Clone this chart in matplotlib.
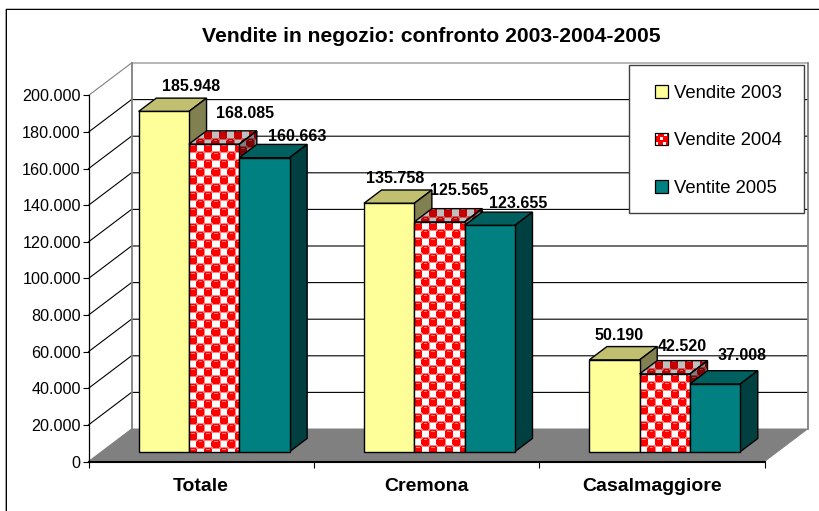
#!/usr/bin/env python3
"""Vendite in negozio: 3D-look clustered bars drawn on a flat matplotlib axes."""

import numpy as np
import matplotlib
matplotlib.use("Agg")
import matplotlib.pyplot as plt
from matplotlib.legend_handler import HandlerBase
from matplotlib.lines import Line2D
from matplotlib.patches import Patch, Polygon, Rectangle

categories = ["Totale", "Cremona", "Casalmaggiore"]
series_names = ["Vendite 2003", "Vendite 2004", "Ventite 2005"]
vendite_2003 = [185948, 135758, 50190]
vendite_2004 = [168085, 125565, 42520]
vendite_2005 = [160663, 123655, 37008]
y_ticks = list(range(0, 200001, 20000))

# label offsets from the bar's front-top centre, in pixels
label_dx = [[27.5, 6, 5], [31, 20, 17.5], [33, 28, 27]]
label_dy = [[-25, -25, -24], [-31, -31, -27], [-21, -22, -29]]

W, H = 819, 511
LEFT, RIGHT, FRONT, TOP = 88.5, 764.5, 461.5, 95.5
plt.rcParams["font.family"] = ["Liberation Sans", "DejaVu Sans"]

fig = plt.figure(figsize=(W / 100, H / 100), dpi=100, facecolor="white")
ax = fig.add_axes([LEFT / W, 1 - FRONT / H, (RIGHT - LEFT) / W, (FRONT - TOP) / H])
ax.set_xlim(0, 3)
ax.set_ylim(0, 200000)
ax.patch.set_visible(False)

px_x = 3 / (RIGHT - LEFT)  # data units per pixel
px_y = 200000 / (FRONT - TOP)
DX = 43 * px_x  # full floor depth in data units
DY = 32.5 * px_y
BAR_W = 50.3 * px_x
BAR_D = 0.41
BAR_FRONT = 0.3


def depth(x, y, d):
    return x + d * DX, y + d * DY


def sphere_tile(red, white):
    """One 15x16 cell of the red spheres fill."""
    red = np.array(red)
    white = np.array(white)
    tile = np.ones((16, 15, 3)) * (0.5 * red + 0.5 * white)
    yy, xx = np.mgrid[0:16, 0:15]
    for cx, cy in [(3.5, 3.5), (11, 11.5)]:
        ball = (xx - cx) ** 2 + (yy - cy) ** 2 <= 4.4 ** 2
        tile[ball] = red
        spot = (abs(xx - cx) <= 1.5) & (abs(yy - cy + 2.5) <= 0.5)
        tile[spot] = 0.5 * red + 0.5 * white
    for cx, cy in [(11, 3.5), (3.5, 11.5)]:
        square = (abs(xx - cx) <= 3) & (abs(yy - cy) <= 3)
        tile[square] = white
    return tile


def fill_image(poly, red, white, zorder):
    """Paint the sphere fill inside a polygon, one tile pixel per screen pixel."""
    xs, ys = poly.get_xy()[:, 0], poly.get_xy()[:, 1]
    w = max(int(round((xs.max() - xs.min()) / px_x)), 1)
    h = max(int(round((ys.max() - ys.min()) / px_y)), 1)
    cell = sphere_tile(red, white)
    arr = np.tile(cell, (h // 16 + 1, w // 15 + 1, 1))[:h, :w]
    im = ax.imshow(arr, extent=(xs.min(), xs.max(), ys.min(), ys.max()), aspect="auto",
                   interpolation="nearest", origin="upper", zorder=zorder)
    im.set_clip_path(poly)


# walls and floor
back_left = depth(0, 0, 1)
back_right = depth(3, 0, 1)
ax.add_patch(Polygon([(0, 0), (3, 0), back_right, back_left], closed=True, facecolor="#808080",
                     edgecolor="#808080", lw=0.7, clip_on=False, zorder=1))
for t in y_ticks[1:]:
    x0, y0 = depth(0, t, 1)
    x1, y1 = depth(3, t, 1)
    color = "#808080" if t == y_ticks[-1] else "black"
    ax.plot([0, x0, x1], [t, y0, y1], color=color, lw=0.8, clip_on=False, zorder=1.5)
for x in (0, 3):
    x0, y0 = depth(x, 0, 1)
    x1, y1 = depth(x, 200000, 1)
    ax.plot([x0, x1], [y0, y1], color="#808080", lw=1.3, clip_on=False, zorder=1.5)

fills = [("#FFFF99", "#C0C070", "#808050"), (None, None, None), ("#008080", "#006060", "#004040")]
z = 3
for s, values in enumerate([vendite_2003, vendite_2004, vendite_2005]):
    for c, v in enumerate(values):
        xc = c + 0.5 + BAR_FRONT * DX + (s - 1) * BAR_W
        base = BAR_FRONT * DY
        x0, x1 = xc - BAR_W / 2, xc + BAR_W / 2
        front_col, top_col, side_col = fills[s]
        d = BAR_D
        top = Polygon([(x0, base + v), (x1, base + v), (x1 + d * DX, base + v + d * DY),
                       (x0 + d * DX, base + v + d * DY)], closed=True, clip_on=False,
                      facecolor=top_col or "none", edgecolor="black", lw=1, zorder=z + 0.2)
        side = Polygon([(x1, base), (x1 + d * DX, base + d * DY), (x1 + d * DX, base + v + d * DY),
                        (x1, base + v)], closed=True, clip_on=False,
                       facecolor=side_col or "none", edgecolor="black", lw=1, zorder=z + 0.2)
        ax.add_patch(top)
        ax.add_patch(side)
        if front_col is None:
            fill_image(top, (0.78, 0, 0), (0.75, 0.75, 0.75), z + 0.1)
            fill_image(side, (0.5, 0, 0), (0.5, 0.5, 0.5), z + 0.1)
        ax.bar(xc, v, width=BAR_W, bottom=base, facecolor=front_col or "none",
               edgecolor="black", lw=1, zorder=z + 0.4, clip_on=False)
        if front_col is None:
            front_poly = Polygon([(x0, base), (x1, base), (x1, base + v), (x0, base + v)],
                                 closed=True, facecolor="none", edgecolor="none", clip_on=False)
            ax.add_patch(front_poly)
            fill_image(front_poly, (1, 0, 0), (1, 1, 1), z + 0.3)
        ax.annotate(f"{v:,}".replace(",", "."), xy=(xc, base + v),
                    xytext=(label_dx[s][c] * 0.72, -label_dy[s][c] * 0.72),
                    textcoords="offset points", ha="center", va="center",
                    fontsize=11.5, fontweight="bold", zorder=50, annotation_clip=False)
        z += 1

ax.set_xlim(0, 3)
ax.set_ylim(0, 200000)

for name in ("top", "right"):
    ax.spines[name].set_visible(False)
ax.spines["left"].set_linewidth(0.9)
ax.spines["bottom"].set_linewidth(1.5)
ax.spines["bottom"].set_zorder(2)

ax.set_yticks(y_ticks)
ax.set_yticklabels([f"{t:,}".replace(",", ".") for t in y_ticks], fontsize=11.6)
ax.tick_params(axis="y", length=4, width=0.8, pad=1.5)
ax.set_xticks([0, 1, 2, 3])
ax.set_xticklabels([])
ax.tick_params(axis="x", which="major", length=4, width=0.8)
ax.xaxis.get_major_ticks()[-1].tick1line.set_color("#808080")
ax.set_xticks([0.5, 1.5, 2.5], minor=True)
ax.set_xticklabels(categories, minor=True, fontsize=14, fontweight="bold")
ax.tick_params(axis="x", which="minor", length=0, pad=12)

fig.text(431.5 / W, 1 - 36 / H, "Vendite in negozio: confronto 2003-2004-2005", ha="center",
         va="center", fontsize=15.2, fontweight="bold")

# chart frame: only the top and left edges are inside the picture
for xs, ys, color in [([5.5, W], [8.5, 8.5], "#C0C0C0"), ([5.5, W], [9.5, 9.5], "black"),
                      ([5.2, 5.2], [9, H], "#A0A0A0"), ([6.2, 6.2], [9, H], "black")]:
    fig.add_artist(Line2D([x / W for x in xs], [1 - y / H for y in ys], color=color, lw=0.72,
                          transform=fig.transFigure))


class SpeckledHandle(HandlerBase):
    """Legend key for the sphere fill: red square with white flecks."""

    def create_artists(self, legend, orig, xd, yd, width, height, fontsize, trans):
        arts = [Rectangle((-xd, -yd), width, height, facecolor="#FF0000", edgecolor="none",
                          transform=trans)]
        for fx, fy in [(0.05, 0.05), (0.65, 0.05), (0.05, 0.7), (0.7, 0.7), (0.4, 0.4)]:
            arts.append(Rectangle((-xd + fx * width, -yd + fy * height), 0.22 * width,
                                  0.22 * height, facecolor="white", edgecolor="none", transform=trans))
        arts.append(Rectangle((-xd, -yd), width, height, facecolor="none", edgecolor="black",
                              lw=0.9, transform=trans))
        return arts


# legend box
fig.add_artist(Rectangle((628.7 / W, 1 - 213.5 / H), 175.5 / W, 148.5 / H, transform=fig.transFigure,
                         facecolor="white", edgecolor="#404040", lw=1, zorder=60))
handles = [Patch(facecolor=fills[0][0], edgecolor="black", lw=0.9),
           Patch(facecolor="#FF0000", edgecolor="black", lw=0.9),
           Patch(facecolor=fills[2][0], edgecolor="black", lw=0.9)]
leg = fig.legend(handles, series_names, loc="center", bbox_to_anchor=(718.5 / W, 1 - 141 / H),
                 frameon=False, fontsize=13.3, labelspacing=1.67, handlelength=0.7,
                 handleheight=0.7, handletextpad=0.33, borderpad=0,
                 handler_map={handles[1]: SpeckledHandle()})
leg.set_zorder(61)

fig.savefig("out.png", dpi=100)
